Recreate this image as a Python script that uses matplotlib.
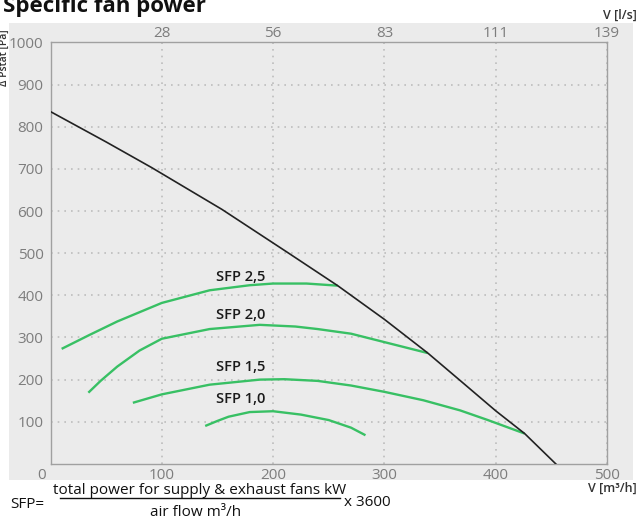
import matplotlib
matplotlib.use('Agg')

import matplotlib.pyplot as plt
import matplotlib.transforms as mtransforms
from matplotlib.lines import Line2D
from matplotlib.patches import Rectangle

plt.rcParams['font.family'] = ['Open Sans', 'DejaVu Sans']

######   data

# system curve, V [m3/h] -> dp [Pa]
sys_v = [0, 50, 91, 154, 214, 258, 300, 339, 368, 400, 426, 454]
sys_p = [836, 764, 703, 604, 500, 423, 343, 263, 198, 126, 72, 0]

# SFP iso-lines
sfp25_v = [10, 35, 60, 100, 143, 179, 200, 230, 258]
sfp25_p = [273, 306, 338, 382, 412, 424, 428, 428, 423]

sfp20_v = [34, 45, 60, 80, 100, 143, 188, 220, 240, 270, 300, 339]
sfp20_p = [169, 197, 231, 269, 297, 320, 330, 326, 320, 309, 289, 263]

sfp15_v = [74, 100, 143, 188, 210, 240, 270, 300, 335, 368, 393, 426]
sfp15_p = [145, 165, 188, 200, 201, 197, 186, 171, 151, 127, 104, 72]

sfp10_v = [139, 150, 160, 179, 200, 225, 250, 270, 283]
sfp10_p = [90, 102, 112, 123, 125, 117, 104, 86, 68]

sfp_names = ["SFP 2,5", "SFP 2,0", "SFP 1,5", "SFP 1,0"]
label_x = [149, 149, 149, 149]
label_y = [444, 354, 231, 153]

x_ticks = [0, 100, 200, 300, 400, 500]
y_ticks = [100, 200, 300, 400, 500, 600, 700, 800, 900, 1000]
ls_labels = ["28", "56", "83", "111", "139"]

############

GREEN = '#38c064'
GREY_TXT = '#7d7d7d'
BG = '#ebebeb'

fig = plt.figure(figsize=(6.39, 5.2), dpi=100)
fig.patch.set_facecolor('white')

# grey panel behind the chart
fig.add_artist(Rectangle((0.014, 1 - 480/520), 0.976, (480 - 23)/520,
                         transform=fig.transFigure, facecolor=BG,
                         edgecolor='none', zorder=0))

ax = fig.add_axes([50.5/639, 1 - 463.9/520, (607 - 50.5)/639, (463.9 - 42.5)/520])
ax.set_facecolor(BG)
ax.set_xlim(0, 500)
ax.set_ylim(0, 1000)

for s in ax.spines.values():
    s.set_color('#a0a0a0')
    s.set_linewidth(1.0)

ax.set_xticks(x_ticks)
ax.set_yticks(y_ticks)
ax.tick_params(axis='y', length=0, labelsize=11, labelcolor=GREY_TXT, pad=5)
ax.tick_params(axis='x', length=0, labelsize=11, labelcolor=GREY_TXT, pad=3)
ax.grid(True, color='#bdbdbd', linestyle=(0, (1, 3)), linewidth=1.2)

# the "0" on the x axis sits a bit left of the spine
lbl0 = ax.get_xticklabels()[0]
lbl0.set_transform(lbl0.get_transform() +
                   mtransforms.ScaledTranslation(-9/100, 0, fig.dpi_scale_trans))

ax2 = ax.secondary_xaxis('top')
ax2.set_xticks(x_ticks[1:], labels=ls_labels)
ax2.tick_params(length=0, labelsize=11, labelcolor=GREY_TXT, pad=1)
ax2.spines['top'].set_visible(False)

# curves
for v, p in [(sfp25_v, sfp25_p), (sfp20_v, sfp20_p),
             (sfp15_v, sfp15_p), (sfp10_v, sfp10_p)]:
    ax.plot(v, p, color=GREEN, lw=1.7, zorder=3, solid_capstyle='butt',
            solid_joinstyle='round')
ax.plot(sys_v, sys_p, color='#222222', lw=1.2, zorder=4, solid_joinstyle='round')

for name, lx, ly in zip(sfp_names, label_x, label_y):
    ax.text(lx, ly, name, ha='left', va='center', fontsize=10.5,
            fontweight='semibold', color='#1a1a1a')

# titles and axis names
fig.text(0.005, 1 - 12/520, "Specific fan power", fontsize=16,
         fontweight='bold', va='baseline', ha='left', color='#111111')
fig.text(637/639, 1 - 15/520, "V [l/s]", fontsize=9, fontweight='semibold',
         ha='right', va='center', color='#333333')
fig.text(637/639, 1 - 488/520, "V [m³/h]", fontsize=9, fontweight='semibold',
         ha='right', va='center', color='#333333')
fig.text(4/639, 1 - 58/520, "Δ Pstat [Pa]", fontsize=7.5, fontweight='semibold',
         rotation=90, ha='center', va='center', color='#333333')

# SFP formula under the chart
fig.text(10/639, 1 - 505/520, "SFP=", fontsize=11, ha='left', va='center',
         color='#111111')
fig.text(200/639, 1 - 490/520, "total power for supply & exhaust fans kW",
         fontsize=11, ha='center', va='center', color='#111111')
fig.add_artist(Line2D([60/639, 340/639], [1 - 498/520, 1 - 498/520],
                      transform=fig.transFigure, color='#111111', lw=1.0))
fig.text(196/639, 1 - 512/520, "air flow m³/h", fontsize=11, ha='center',
         va='center', color='#111111')
fig.text(344/639, 1 - 503/520, "x 3600", fontsize=11, ha='left', va='center',
         color='#111111')

fig.savefig('out.png', dpi=100)
